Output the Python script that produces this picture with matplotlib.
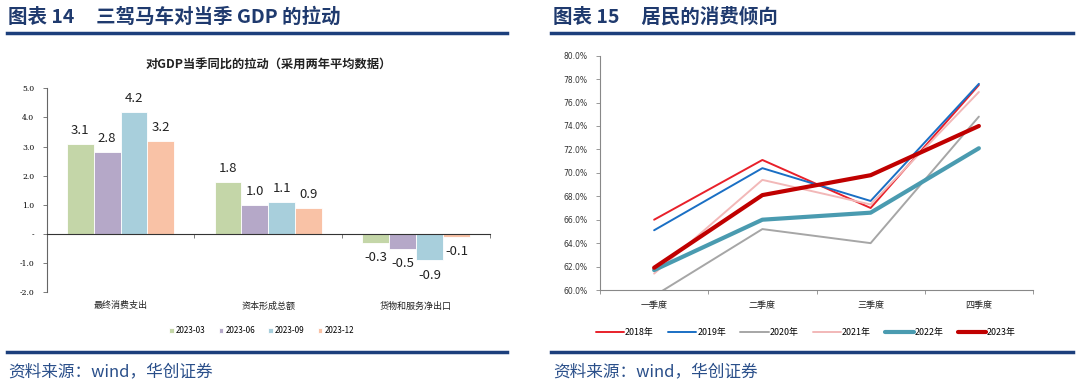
import matplotlib
matplotlib.use('Agg')
import matplotlib.pyplot as plt
from matplotlib.lines import Line2D
import numpy as np

plt.rcParams['font.family'] = ['Noto Sans CJK SC', 'DejaVu Sans']

# left chart data
gdp_cats = ['最终消费支出', '资本形成总额', '货物和服务净出口']
gdp_series = ['2023-03', '2023-06', '2023-09', '2023-12']
gdp_vals = [
    [3.1, 1.8, -0.3],
    [2.8, 1.0, -0.5],
    [4.2, 1.1, -0.9],
    [3.2, 0.9, -0.1],
]
gdp_colors = ['#c4d6a8', '#b5a8c8', '#a8cfdc', '#f9c2a6']

# right chart data
quarters = ['一季度', '二季度', '三季度', '四季度']
years = ['2018年', '2019年', '2020年', '2021年', '2022年', '2023年']
prop_2018 = [66.0, 71.1, 67.0, 77.5]
prop_2019 = [65.1, 70.4, 67.6, 77.6]
prop_2020 = [59.5, 65.2, 64.0, 74.8]
prop_2021 = [61.4, 69.4, 67.3, 76.9]
prop_2022 = [61.7, 66.0, 66.6, 72.1]
prop_2023 = [61.9, 68.1, 69.8, 74.0]
prop_all = [prop_2018, prop_2019, prop_2020, prop_2021, prop_2022, prop_2023]
line_colors = ['#e8202a', '#1a6fc4', '#a6a6a6', '#f2b8b8', '#4a9bb0', '#c00000']
line_widths = [1.4, 1.4, 1.4, 1.4, 3.0, 3.0]

W, H = 1080, 385
fig = plt.figure(figsize=(W / 100, H / 100), dpi=100)

navy = '#1c3f7c'
head_col = '#1f3a6e'

def px(x0, y0, x1, y1):
    return [x0 / W, 1 - y1 / H, (x1 - x0) / W, (y1 - y0) / H]

def hline(x0, x1, y, lw=2.5):
    fig.add_artist(Line2D([x0 / W, x1 / W], [1 - y / H, 1 - y / H],
                          color=navy, lw=lw))

# headers and frame lines
fig.text(8 / W, 1 - 17 / H, '图表 14     三驾马车对当季 GDP 的拉动', fontsize=14,
         fontweight='bold', color=head_col, va='center')
fig.text(553 / W, 1 - 17 / H, '图表 15     居民的消费倾向', fontsize=14,
         fontweight='bold', color=head_col, va='center')
hline(7, 507, 33)
hline(551, 1073, 33)
hline(7, 507, 352)
hline(551, 1073, 352)
fig.text(8 / W, 1 - 372 / H, '资料来源：wind，华创证券', fontsize=12,
         color='#2a4f8a', va='center', style='italic')
fig.text(553 / W, 1 - 372 / H, '资料来源：wind，华创证券', fontsize=12,
         color='#2a4f8a', va='center', style='italic')

# ---- left bar chart
ax1 = fig.add_axes(px(46.7, 88.3, 490, 292.3))
x = np.arange(len(gdp_cats))
bw = 0.182
for i, (lab, vals, c) in enumerate(zip(gdp_series, gdp_vals, gdp_colors)):
    xs = x + (i - 1.5) * bw
    ax1.bar(xs, vals, width=bw, color=c, edgecolor='white', linewidth=0.6,
            label=lab, zorder=2)
    for xi, v in zip(xs, vals):
        off = 5 if v >= 0 else -6
        ax1.annotate(f'{v:.1f}', (xi, v), xytext=(0, off),
                     textcoords='offset points', ha='center',
                     va='bottom' if v >= 0 else 'top', fontsize=9.5,
                     color='#222222')
ax1.set_xlim(-0.5, 2.5)
ax1.set_ylim(-2, 5)
ax1.set_yticks(np.arange(-2, 6, 1))
ax1.set_yticklabels(['-' if v == 0 else f'{v:.1f}' for v in np.arange(-2, 6, 1)],
                    family='DejaVu Serif', fontsize=5.5)
ax1.spines['top'].set_visible(False)
ax1.spines['right'].set_visible(False)
ax1.spines['bottom'].set_position(('data', 0))
ax1.spines['bottom'].set_color('#333333')
ax1.spines['left'].set_color('#666666')
ax1.spines['left'].set_linewidth(0.8)
ax1.tick_params(axis='y', length=3, width=0.6, color='#666666', pad=6)
ax1.set_xticks([-0.5, 0.5, 1.5, 2.5])
ax1.set_xticklabels([])
ax1.tick_params(axis='x', length=3, width=0.6, color='#666666')
for xi, lab in zip(x, gdp_cats):
    ax1.text(xi, -0.045, lab, transform=ax1.get_xaxis_transform(),
             ha='center', va='top', fontsize=6.5, color='#222222')
ax1.set_title('对GDP当季同比的拉动（采用两年平均数据）', fontsize=8.8,
              fontweight='bold', pad=15, color='#222222')
ax1.legend(loc='upper center', bbox_to_anchor=(0.485, -0.13), ncol=4,
           frameon=False, fontsize=5.8, handlelength=0.55, handleheight=0.55,
           handletextpad=0.3, columnspacing=1.6)

# ---- right line chart
ax2 = fig.add_axes(px(600, 55.7, 1033, 290))
qx = np.arange(len(quarters)) + 0.5
for lab, vals, c, lw in zip(years, prop_all, line_colors, line_widths):
    ax2.plot(qx, vals, color=c, lw=lw, label=lab, solid_capstyle='round')
ax2.set_xlim(0, 4)
ax2.set_ylim(60, 80)
ax2.set_yticks(np.arange(60, 81, 2))
ax2.set_yticklabels([f'{v:.1f}%' for v in np.arange(60, 81, 2)], fontsize=5.5,
                    family='DejaVu Sans', color='#333333')
ax2.set_xticks([0, 1, 2, 3, 4])
ax2.set_xticklabels([])
ax2.tick_params(axis='x', length=3, width=0.6, color='#888888')
ax2.tick_params(axis='y', length=3, width=0.6, color='#888888', pad=6)
for xi, lab in zip(qx, quarters):
    ax2.text(xi, -0.045, lab, transform=ax2.get_xaxis_transform(),
             ha='center', va='top', fontsize=6.5, color='#222222')
ax2.spines['top'].set_visible(False)
ax2.spines['right'].set_visible(False)
ax2.spines['left'].set_color('#888888')
ax2.spines['bottom'].set_color('#888888')
ax2.legend(loc='upper center', bbox_to_anchor=(0.475, -0.13), ncol=6,
           frameon=False, fontsize=6.4, handlelength=3.2, handletextpad=0.1,
           columnspacing=1.6)

fig.savefig('out.png', dpi=100)
